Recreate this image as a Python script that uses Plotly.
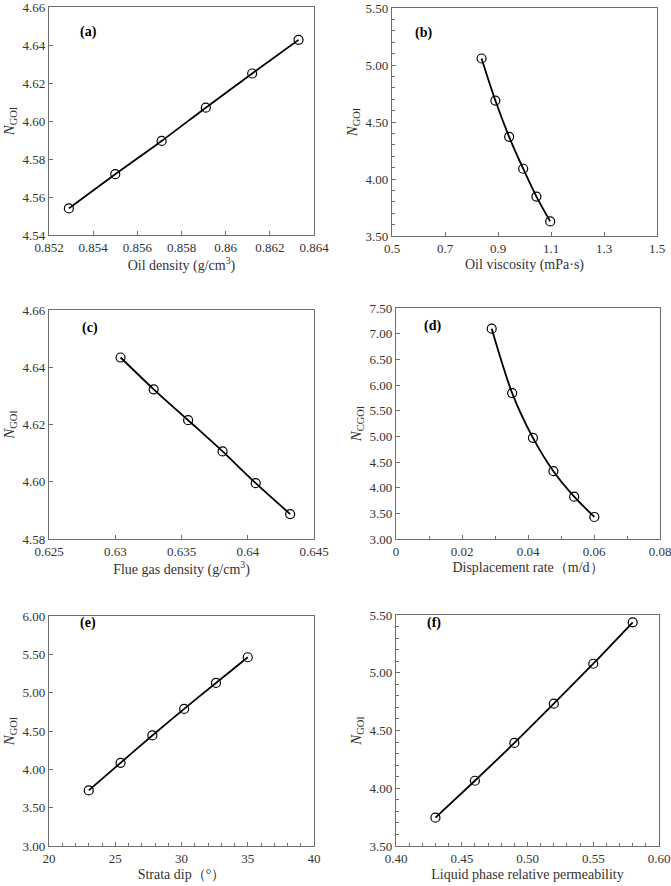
import plotly.graph_objects as go

W, H = 671, 886

# ---- data ----
a_x = [0.8529, 0.8550, 0.8571, 0.8591, 0.8612, 0.8633]
a_y = [4.554, 4.572, 4.5895, 4.607, 4.625, 4.6427]
b_x = [0.838, 0.890, 0.942, 0.995, 1.045, 1.097]
b_y = [5.057, 4.688, 4.370, 4.090, 3.846, 3.628]
c_x = [0.6304, 0.6329, 0.6355, 0.6381, 0.6406, 0.6432]
c_y = [4.6434, 4.6323, 4.6215, 4.6106, 4.5995, 4.5887]
d_x = [0.0290, 0.0352, 0.0415, 0.0477, 0.0540, 0.0601]
d_y = [7.097, 5.842, 4.970, 4.321, 3.825, 3.429]
e_x = [23.0, 25.4, 27.8, 30.2, 32.6, 35.0]
e_y = [3.725, 4.085, 4.442, 4.788, 5.127, 5.462]
f_x = [0.43, 0.46, 0.49, 0.52, 0.55, 0.58]
f_y = [3.745, 4.065, 4.392, 4.732, 5.078, 5.437]

panel_labels = ["(a)", "(b)", "(c)", "(d)", "(e)", "(f)"]
x_titles = ["Oil density (g/cm<sup>3</sup>)", "Oil viscosity (mPa·s)",
            "Flue gas density (g/cm<sup>3</sup>)", "Displacement rate（m/d）",
            "Strata dip（°）", "Liquid phase relative permeability"]
y_titles = ["<i>N</i><sub>GOI</sub>", "<i>N</i><sub>GOI</sub>", "<i>N</i><sub>GOI</sub>",
            "<i>N</i><sub>CGOI</sub>", "<i>N</i><sub>GOI</sub>", "<i>N</i><sub>GOI</sub>"]

series = [(a_x, a_y), (b_x, b_y), (c_x, c_y), (d_x, d_y), (e_x, e_y), (f_x, f_y)]

# ---- layout / styling ----
# pixel boxes: (left, right, top, bottom)
boxes = [(49, 314, 7, 235), (392, 657, 8, 236),
         (49, 314, 310, 539), (396, 660, 308, 539),
         (49, 314, 616, 846), (396, 659, 615, 846)]
xcfg = [
    dict(range=[0.852, 0.864], dtick=0.002, tick0=0.852),
    dict(range=[0.5, 1.5], dtick=0.2, tick0=0.5, tickformat=".1f"),
    dict(range=[0.625, 0.645], dtick=0.005, tick0=0.625),
    dict(range=[0, 0.08], dtick=0.02, tick0=0, minor=0.01),
    dict(range=[20, 40], dtick=5, tick0=20, minor=1),
    dict(range=[0.4, 0.6], dtick=0.05, tick0=0.4, tickformat=".2f", minor=0.01),
]
ycfg = [
    dict(range=[4.54, 4.66], dtick=0.02, tick0=4.54),
    dict(range=[3.5, 5.5], dtick=0.5, tick0=3.5, minor=0.1),
    dict(range=[4.58, 4.66], dtick=0.02, tick0=4.58),
    dict(range=[3.0, 7.5], dtick=0.5, tick0=3.0),
    dict(range=[3.0, 6.0], dtick=0.5, tick0=3.0),
    dict(range=[3.5, 5.5], dtick=0.5, tick0=3.5, minor=0.1),
]
label_pos = [(78, 22), (423, 23), (80, 328), (432, 326), (78, 633), (434, 633)]

FONT = "Liberation Serif"
AXC = "#6e6e6e"
TXT = "#333333"

fig = go.Figure()
layout = dict(width=W, height=H, margin=dict(l=0, r=0, t=0, b=0),
              paper_bgcolor="white", plot_bgcolor="white", showlegend=False,
              font=dict(family=FONT, size=13, color=TXT))
annotations = []

for i, ((xs, ys), box, xc, yc, (lx, ly)) in enumerate(zip(series, boxes, xcfg, ycfg, label_pos)):
    n = "" if i == 0 else str(i + 1)
    l, r, t, b = box
    fig.add_trace(go.Scatter(
        x=xs, y=ys, mode="lines+markers", xaxis="x" + n, yaxis="y" + n,
        line=dict(color="black", width=1.8, shape="spline", smoothing=0.8),
        marker=dict(symbol="circle-open", size=9, color="black", line=dict(width=1.2)),
    ))
    common = dict(showgrid=False, zeroline=False, showline=True, linecolor=AXC, linewidth=1.2,
                  mirror=True, ticks="inside", ticklen=4, tickcolor=AXC, tickwidth=1,
                  tickfont=dict(family=FONT, size=13, color=TXT), automargin=False,
                  ticklabeloverflow="allow")
    xa = dict(common, domain=[l / W, r / W], anchor="y" + n, range=xc["range"],
              tickmode="linear", dtick=xc["dtick"], tick0=xc["tick0"],
              title=dict(text=x_titles[i], font=dict(family=FONT, size=14, color=TXT), standoff=4))
    if "tickformat" in xc:
        xa["tickformat"] = xc["tickformat"]
    if "minor" in xc:
        xa["minor"] = dict(dtick=xc["minor"], ticks="inside", ticklen=3, tickcolor=AXC)
    ya = dict(common, domain=[1 - b / H, 1 - t / H], anchor="x" + n, range=yc["range"],
              tickmode="linear", dtick=yc["dtick"], tick0=yc["tick0"], tickformat=".2f",
              title=dict(text=y_titles[i], font=dict(family=FONT, size=15, color=TXT), standoff=4))
    if "minor" in yc:
        ya["minor"] = dict(dtick=yc["minor"], ticks="inside", ticklen=3, tickcolor=AXC)
    layout["xaxis" + n] = xa
    layout["yaxis" + n] = ya
    annotations.append(dict(text="<b>" + panel_labels[i] + "</b>", x=lx / W, y=1 - ly / H,
                            xref="paper", yref="paper", showarrow=False,
                            font=dict(family=FONT, size=14, color="black")))

layout["annotations"] = annotations
fig.update_layout(**layout)
fig.write_html("out.html")
